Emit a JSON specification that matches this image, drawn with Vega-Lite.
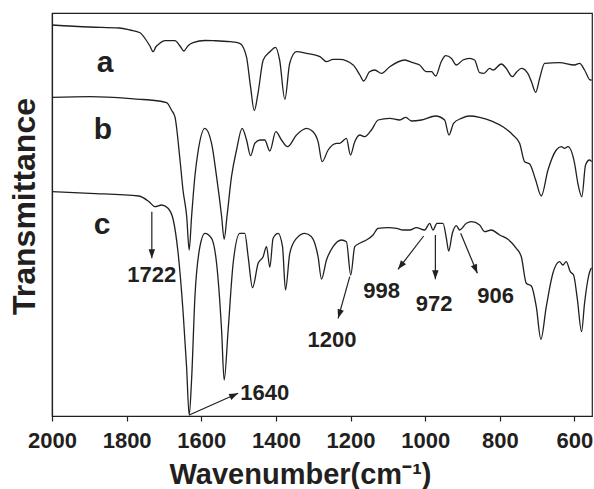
{
  "$schema": "https://vega.github.io/schema/vega-lite/v6.json",
  "width": 540,
  "height": 403,
  "autosize": "none",
  "padding": {"left": 52, "top": 13, "right": 2, "bottom": 73},
  "background": "white",
  "config": {
    "view": {"stroke": "#231f20", "strokeWidth": 1.2},
    "font": "Liberation Sans"
  },
  "datasets": {
    "spectra": [
      {"s": "a", "wn": 2000, "t": 391}, {"s": "a", "wn": 1900, "t": 389}, {"s": "a", "wn": 1820, "t": 388}, {"s": "a", "wn": 1791, "t": 386}, {"s": "a", "wn": 1764, "t": 383.3}, {"s": "a", "wn": 1748, "t": 376}, {"s": "a", "wn": 1737.6, "t": 370}, {"s": "a", "wn": 1729, "t": 364.3}, {"s": "a", "wn": 1722, "t": 369}, {"s": "a", "wn": 1713.5, "t": 372}, {"s": "a", "wn": 1697.5, "t": 375.3}, {"s": "a", "wn": 1680, "t": 375.3}, {"s": "a", "wn": 1670.7, "t": 375.3}, {"s": "a", "wn": 1657, "t": 370}, {"s": "a", "wn": 1646.6, "t": 365}, {"s": "a", "wn": 1636, "t": 370}, {"s": "a", "wn": 1621.7, "t": 373.3}, {"s": "a", "wn": 1590, "t": 375.5}, {"s": "a", "wn": 1568, "t": 375.3}, {"s": "a", "wn": 1523, "t": 374.3}, {"s": "a", "wn": 1497, "t": 372.7}, {"s": "a", "wn": 1479, "t": 359.3}, {"s": "a", "wn": 1468, "t": 329.3}, {"s": "a", "wn": 1458, "t": 305.3}, {"s": "a", "wn": 1448, "t": 322.7}, {"s": "a", "wn": 1434, "t": 356}, {"s": "a", "wn": 1416, "t": 364.3}, {"s": "a", "wn": 1401, "t": 368.7}, {"s": "a", "wn": 1390, "t": 356}, {"s": "a", "wn": 1376, "t": 316.7}, {"s": "a", "wn": 1363, "t": 352.7}, {"s": "a", "wn": 1345, "t": 364.3}, {"s": "a", "wn": 1318, "t": 362.7}, {"s": "a", "wn": 1282, "t": 359.3}, {"s": "a", "wn": 1264.5, "t": 354.3}, {"s": "a", "wn": 1247, "t": 356.7}, {"s": "a", "wn": 1229, "t": 356.7}, {"s": "a", "wn": 1193, "t": 351}, {"s": "a", "wn": 1175, "t": 341}, {"s": "a", "wn": 1164.7, "t": 335}, {"s": "a", "wn": 1149, "t": 344.3}, {"s": "a", "wn": 1135, "t": 346}, {"s": "a", "wn": 1117, "t": 342.7}, {"s": "a", "wn": 1095, "t": 349.3}, {"s": "a", "wn": 1055, "t": 356}, {"s": "a", "wn": 1033, "t": 353.3}, {"s": "a", "wn": 1015, "t": 351}, {"s": "a", "wn": 997, "t": 344.3}, {"s": "a", "wn": 983, "t": 344.3}, {"s": "a", "wn": 972, "t": 340}, {"s": "a", "wn": 957, "t": 354.3}, {"s": "a", "wn": 945, "t": 360.3}, {"s": "a", "wn": 930, "t": 357.7}, {"s": "a", "wn": 916.5, "t": 351}, {"s": "a", "wn": 899, "t": 356}, {"s": "a", "wn": 881, "t": 357.7}, {"s": "a", "wn": 867.5, "t": 356}, {"s": "a", "wn": 854, "t": 343.3}, {"s": "a", "wn": 843, "t": 342.7}, {"s": "a", "wn": 827, "t": 347.7}, {"s": "a", "wn": 818, "t": 346}, {"s": "a", "wn": 796, "t": 352}, {"s": "a", "wn": 783, "t": 347.7}, {"s": "a", "wn": 766.5, "t": 339.3}, {"s": "a", "wn": 755, "t": 344}, {"s": "a", "wn": 742, "t": 347.7}, {"s": "a", "wn": 725, "t": 342.7}, {"s": "a", "wn": 715, "t": 334}, {"s": "a", "wn": 704, "t": 323.7}, {"s": "a", "wn": 693, "t": 338}, {"s": "a", "wn": 680, "t": 352.7}, {"s": "a", "wn": 640, "t": 353.3}, {"s": "a", "wn": 600, "t": 351}, {"s": "a", "wn": 586, "t": 352.7}, {"s": "a", "wn": 573, "t": 346}, {"s": "a", "wn": 557.7, "t": 336}, {"s": "a", "wn": 554, "t": 336},

      {"s": "b", "wn": 2000, "t": 318.7}, {"s": "b", "wn": 1898, "t": 319.3}, {"s": "b", "wn": 1764, "t": 316.7}, {"s": "b", "wn": 1737.6, "t": 316}, {"s": "b", "wn": 1693, "t": 313.3}, {"s": "b", "wn": 1680, "t": 306}, {"s": "b", "wn": 1670.7, "t": 299.3}, {"s": "b", "wn": 1657, "t": 256}, {"s": "b", "wn": 1649, "t": 226}, {"s": "b", "wn": 1639, "t": 199.3}, {"s": "b", "wn": 1632.4, "t": 166}, {"s": "b", "wn": 1626, "t": 199.3}, {"s": "b", "wn": 1617, "t": 240}, {"s": "b", "wn": 1608, "t": 266}, {"s": "b", "wn": 1590.4, "t": 287.7}, {"s": "b", "wn": 1572.4, "t": 272.7}, {"s": "b", "wn": 1559, "t": 239.3}, {"s": "b", "wn": 1545.6, "t": 200}, {"s": "b", "wn": 1538.7, "t": 176.7}, {"s": "b", "wn": 1531, "t": 200}, {"s": "b", "wn": 1519, "t": 239.3}, {"s": "b", "wn": 1505.5, "t": 266}, {"s": "b", "wn": 1490.5, "t": 287.7}, {"s": "b", "wn": 1478.7, "t": 276}, {"s": "b", "wn": 1468, "t": 260.3}, {"s": "b", "wn": 1456.5, "t": 272.7}, {"s": "b", "wn": 1443, "t": 276}, {"s": "b", "wn": 1430, "t": 276}, {"s": "b", "wn": 1416.3, "t": 265}, {"s": "b", "wn": 1400.3, "t": 284.3}, {"s": "b", "wn": 1385, "t": 276}, {"s": "b", "wn": 1369, "t": 269.3}, {"s": "b", "wn": 1344.8, "t": 281}, {"s": "b", "wn": 1318, "t": 287.7}, {"s": "b", "wn": 1300.4, "t": 284.3}, {"s": "b", "wn": 1287, "t": 274.3}, {"s": "b", "wn": 1276.3, "t": 254.3}, {"s": "b", "wn": 1260, "t": 266}, {"s": "b", "wn": 1238, "t": 272.7}, {"s": "b", "wn": 1229, "t": 272.7}, {"s": "b", "wn": 1211, "t": 277.7}, {"s": "b", "wn": 1200.3, "t": 261}, {"s": "b", "wn": 1188.7, "t": 274.3}, {"s": "b", "wn": 1175.4, "t": 281}, {"s": "b", "wn": 1162, "t": 279.3}, {"s": "b", "wn": 1144, "t": 286}, {"s": "b", "wn": 1126, "t": 296}, {"s": "b", "wn": 1095, "t": 297.7}, {"s": "b", "wn": 1068, "t": 296}, {"s": "b", "wn": 1052, "t": 298.7}, {"s": "b", "wn": 1037, "t": 295}, {"s": "b", "wn": 1010, "t": 296}, {"s": "b", "wn": 972, "t": 300}, {"s": "b", "wn": 948, "t": 296}, {"s": "b", "wn": 936.3, "t": 281}, {"s": "b", "wn": 924, "t": 292.7}, {"s": "b", "wn": 903, "t": 297.7}, {"s": "b", "wn": 881, "t": 300}, {"s": "b", "wn": 854, "t": 298.7}, {"s": "b", "wn": 818, "t": 294.3}, {"s": "b", "wn": 791.7, "t": 289.3}, {"s": "b", "wn": 765, "t": 281}, {"s": "b", "wn": 747, "t": 272.7}, {"s": "b", "wn": 733.6, "t": 254.3}, {"s": "b", "wn": 720, "t": 252}, {"s": "b", "wn": 704, "t": 236}, {"s": "b", "wn": 688.9, "t": 220}, {"s": "b", "wn": 671, "t": 246}, {"s": "b", "wn": 648.7, "t": 266}, {"s": "b", "wn": 635, "t": 269.3}, {"s": "b", "wn": 626.5, "t": 267.7}, {"s": "b", "wn": 617.6, "t": 269.3}, {"s": "b", "wn": 599.7, "t": 252.7}, {"s": "b", "wn": 590.9, "t": 232.7}, {"s": "b", "wn": 580.2, "t": 219.3}, {"s": "b", "wn": 570.3, "t": 251}, {"s": "b", "wn": 559.6, "t": 256}, {"s": "b", "wn": 554, "t": 254.3},

      {"s": "c", "wn": 2000, "t": 224.3}, {"s": "c", "wn": 1898, "t": 222.7}, {"s": "c", "wn": 1767, "t": 220}, {"s": "c", "wn": 1740, "t": 214.3}, {"s": "c", "wn": 1724, "t": 209.3}, {"s": "c", "wn": 1706, "t": 211}, {"s": "c", "wn": 1689, "t": 207.7}, {"s": "c", "wn": 1675, "t": 196}, {"s": "c", "wn": 1662, "t": 162.7}, {"s": "c", "wn": 1648.5, "t": 102.7}, {"s": "c", "wn": 1639.4, "t": 49.3}, {"s": "c", "wn": 1632.4, "t": 1}, {"s": "c", "wn": 1626, "t": 36}, {"s": "c", "wn": 1617, "t": 119.3}, {"s": "c", "wn": 1603.7, "t": 169.3}, {"s": "c", "wn": 1590.4, "t": 182.7}, {"s": "c", "wn": 1572.4, "t": 177.7}, {"s": "c", "wn": 1559, "t": 152.7}, {"s": "c", "wn": 1545.6, "t": 86}, {"s": "c", "wn": 1538.7, "t": 36}, {"s": "c", "wn": 1528, "t": 86}, {"s": "c", "wn": 1514.6, "t": 152.7}, {"s": "c", "wn": 1496.7, "t": 182.7}, {"s": "c", "wn": 1483.3, "t": 182.7}, {"s": "c", "wn": 1474.4, "t": 159.3}, {"s": "c", "wn": 1462.6, "t": 128.3}, {"s": "c", "wn": 1447.6, "t": 152.7}, {"s": "c", "wn": 1434.3, "t": 159.3}, {"s": "c", "wn": 1425.2, "t": 169.3}, {"s": "c", "wn": 1416.3, "t": 148.7}, {"s": "c", "wn": 1407.5, "t": 177.7}, {"s": "c", "wn": 1394, "t": 182.7}, {"s": "c", "wn": 1382.3, "t": 169.3}, {"s": "c", "wn": 1374.3, "t": 126}, {"s": "c", "wn": 1362.8, "t": 162.7}, {"s": "c", "wn": 1344.8, "t": 177.7}, {"s": "c", "wn": 1322.6, "t": 182.7}, {"s": "c", "wn": 1304.7, "t": 179.3}, {"s": "c", "wn": 1295.9, "t": 172.7}, {"s": "c", "wn": 1287, "t": 159.3}, {"s": "c", "wn": 1277.9, "t": 137}, {"s": "c", "wn": 1264.5, "t": 156}, {"s": "c", "wn": 1246.8, "t": 169.3}, {"s": "c", "wn": 1224.4, "t": 176}, {"s": "c", "wn": 1211, "t": 174.3}, {"s": "c", "wn": 1199.5, "t": 141}, {"s": "c", "wn": 1188.7, "t": 169.3}, {"s": "c", "wn": 1175.4, "t": 172.7}, {"s": "c", "wn": 1157.4, "t": 176}, {"s": "c", "wn": 1139.7, "t": 181}, {"s": "c", "wn": 1126.3, "t": 187.7}, {"s": "c", "wn": 1099.6, "t": 188.3}, {"s": "c", "wn": 1077, "t": 187.7}, {"s": "c", "wn": 1059.4, "t": 186}, {"s": "c", "wn": 1041.5, "t": 186}, {"s": "c", "wn": 1023.6, "t": 188.3}, {"s": "c", "wn": 1001.3, "t": 186}, {"s": "c", "wn": 987.9, "t": 192.7}, {"s": "c", "wn": 979.1, "t": 186}, {"s": "c", "wn": 968.4, "t": 192.7}, {"s": "c", "wn": 952.3, "t": 192.7}, {"s": "c", "wn": 943.2, "t": 177.7}, {"s": "c", "wn": 937.1, "t": 165}, {"s": "c", "wn": 927.2, "t": 182.7}, {"s": "c", "wn": 916.5, "t": 190.3}, {"s": "c", "wn": 907.6, "t": 186}, {"s": "c", "wn": 889.7, "t": 192.7}, {"s": "c", "wn": 876.3, "t": 194.3}, {"s": "c", "wn": 854, "t": 191}, {"s": "c", "wn": 840.7, "t": 184.3}, {"s": "c", "wn": 822.8, "t": 186}, {"s": "c", "wn": 800.5, "t": 181}, {"s": "c", "wn": 778.3, "t": 176.7}, {"s": "c", "wn": 755.8, "t": 167.7}, {"s": "c", "wn": 742.4, "t": 159.3}, {"s": "c", "wn": 729, "t": 132.7}, {"s": "c", "wn": 715.6, "t": 130}, {"s": "c", "wn": 702.3, "t": 109.3}, {"s": "c", "wn": 690, "t": 76.7}, {"s": "c", "wn": 675.5, "t": 109.3}, {"s": "c", "wn": 657.8, "t": 142.7}, {"s": "c", "wn": 640, "t": 154.3}, {"s": "c", "wn": 631, "t": 151}, {"s": "c", "wn": 622, "t": 154.3}, {"s": "c", "wn": 611.2, "t": 144.3}, {"s": "c", "wn": 602.4, "t": 141}, {"s": "c", "wn": 592.5, "t": 117.7}, {"s": "c", "wn": 581, "t": 84.3}, {"s": "c", "wn": 573, "t": 112.7}, {"s": "c", "wn": 564.2, "t": 136}, {"s": "c", "wn": 555, "t": 147.7}, {"s": "c", "wn": 554, "t": 148}
    ],
    "arrows": [
      {"label": "1722", "wn": 1732.5, "t": 204.3, "wn2": 1732.5, "t2": 157.7, "dir": 180},
      {"label": "1640", "wn": 1632.4, "t": 1, "wn2": 1501.2, "t2": 22.7, "dir": 65.7},
      {"label": "1200", "wn": 1202.1, "t": 139.3, "wn2": 1233.4, "t2": 97.7, "dir": 197.2},
      {"label": "998", "wn": 1004, "t": 180, "wn2": 1072.8, "t2": 146.7, "dir": 217.7},
      {"label": "972", "wn": 972.7, "t": 181, "wn2": 972.7, "t2": 136.7, "dir": 180},
      {"label": "906", "wn": 904.9, "t": 182.7, "wn2": 860.2, "t2": 142.7, "dir": 157.3}
    ],
    "labels": [
      {"text": "a", "wn": 1858, "t": 353, "kind": "curve"},
      {"text": "b", "wn": 1863.5, "t": 286, "kind": "curve"},
      {"text": "c", "wn": 1866, "t": 191, "kind": "curve"},
      {"text": "1722", "wn": 1733, "t": 141, "kind": "peak"},
      {"text": "1640", "wn": 1429.7, "t": 23, "kind": "peak"},
      {"text": "1200", "wn": 1250, "t": 76, "kind": "peak"},
      {"text": "998", "wn": 1116.5, "t": 125, "kind": "peak"},
      {"text": "972", "wn": 976, "t": 112.5, "kind": "peak"},
      {"text": "906", "wn": 811.2, "t": 120, "kind": "peak"}
    ]
  },
  "layer": [
    {
      "data": {"name": "spectra"},
      "mark": {"type": "line", "color": "#231f20", "strokeWidth": 1.3, "interpolate": "monotone"},
      "encoding": {
        "x": {
          "field": "wn", "type": "quantitative",
          "scale": {"domain": [553, 2000], "reverse": true, "zero": false, "nice": false},
          "axis": {
            "title": "Wavenumber(cm⁻¹)",
            "values": [600, 700, 800, 900, 1000, 1100, 1200, 1300, 1400, 1500, 1600, 1700, 1800, 1900, 2000],
            "format": "d",
            "labelExpr": "datum.value % 200 === 0 ? datum.label : ''",
            "grid": false,
            "tickSize": 5, "tickWidth": 1.2, "tickColor": "#231f20",
            "domainColor": "#231f20", "domainWidth": 1.2,
            "labelFont": "Liberation Sans", "labelFontWeight": "bold", "labelFontSize": 22, "labelColor": "#231f20",
            "labelBaseline": "alphabetic", "labelPadding": 26, "labelFlush": false, "labelOverlap": false,
            "titleFont": "Liberation Sans", "titleFontWeight": "bold", "titleFontSize": 29, "titleColor": "#231f20",
            "titleX": 248, "titleY": 67, "titleBaseline": "alphabetic", "titleAlign": "center"
          }
        },
        "y": {
          "field": "t", "type": "quantitative",
          "scale": {"domain": [0, 403], "zero": false, "nice": false},
          "axis": {
            "title": "Transmittance",
            "labels": false, "ticks": false, "grid": false,
            "domainColor": "#231f20", "domainWidth": 1.2,
            "titleFont": "Liberation Sans", "titleFontWeight": "bold", "titleFontSize": 32, "titleColor": "#231f20",
            "titleAngle": -90, "titleX": -18, "titleY": 193, "titleBaseline": "alphabetic", "titleAlign": "center"
          }
        },
        "detail": {"field": "s"}
      }
    },
    {
      "data": {"name": "arrows"},
      "mark": {"type": "rule", "color": "#231f20", "strokeWidth": 1.2},
      "encoding": {
        "x": {"field": "wn", "type": "quantitative"},
        "y": {"field": "t", "type": "quantitative"},
        "x2": {"field": "wn2"},
        "y2": {"field": "t2"}
      }
    },
    {
      "data": {"name": "arrows"},
      "mark": {"type": "point", "shape": "M0,0L-0.36,1L0.36,1Z", "filled": true, "size": 324, "color": "#231f20", "opacity": 1},
      "encoding": {
        "x": {"field": "wn2", "type": "quantitative"},
        "y": {"field": "t2", "type": "quantitative"},
        "angle": {"field": "dir", "type": "quantitative", "scale": null}
      }
    },
    {
      "data": {"name": "labels"},
      "mark": {"type": "text", "font": "Liberation Sans", "fontWeight": "bold", "color": "#231f20", "align": "center", "baseline": "middle"},
      "encoding": {
        "x": {"field": "wn", "type": "quantitative"},
        "y": {"field": "t", "type": "quantitative"},
        "text": {"field": "text"},
        "size": {"field": "kind", "type": "nominal", "scale": {"domain": ["curve", "peak"], "range": [30, 22]}, "legend": null}
      }
    }
  ]
}
